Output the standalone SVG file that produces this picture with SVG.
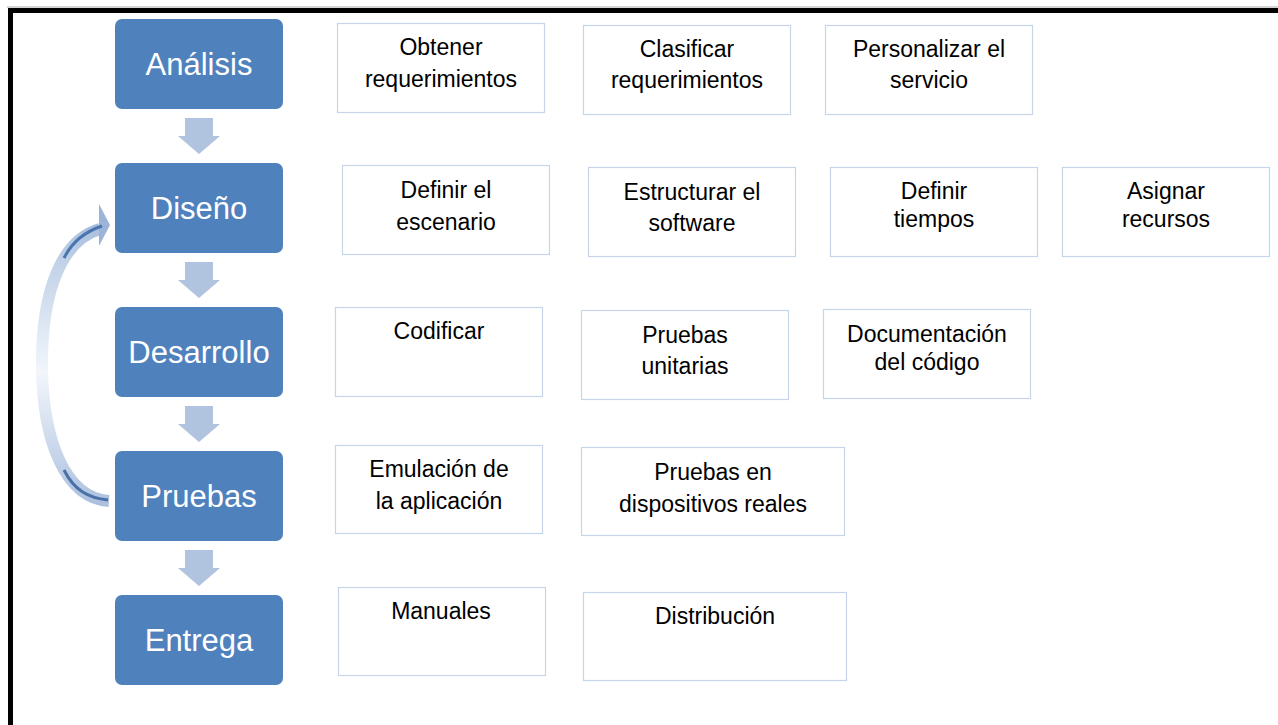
<svg xmlns="http://www.w3.org/2000/svg" width="1278" height="725" viewBox="0 0 1278 725">
<defs>
<style>
.phase{fill:#4F81BD;}
.ptxt{font-family:"Liberation Sans",Arial,sans-serif;font-size:31px;fill:#FFFFFF;text-anchor:middle;}
.task{fill:#FFFFFF;stroke:#C6D5EA;stroke-width:1.2;}
.ttxt{font-family:"Liberation Sans",Arial,sans-serif;font-size:23px;fill:#000000;text-anchor:middle;}
.down{fill:#B0C3DF;}
</style>
<linearGradient id="loopg" x1="0" y1="205" x2="0" y2="510" gradientUnits="userSpaceOnUse">
<stop offset="0" stop-color="#9BB4D8"/>
<stop offset="0.2" stop-color="#C3D3E9"/>
<stop offset="0.55" stop-color="#F2F6FB"/>
<stop offset="0.8" stop-color="#C9D7EB"/>
<stop offset="1" stop-color="#A9BEDD"/>
</linearGradient>
</defs>
<rect x="0" y="0" width="1278" height="725" fill="#FFFFFF"/>
<line x1="7" y1="7" x2="1278" y2="7" stroke="#AAAAAA" stroke-width="1"/>
<rect x="10.5" y="10.5" width="1300" height="800" fill="none" stroke="#000000" stroke-width="5"/>

<g id="connectors">
<path class="down" d="M185 118 H213 V136 H220 L199 154 L178 136 H185 Z"/>
<path class="down" d="M185 262 H213 V280 H220 L199 298 L178 280 H185 Z"/>
<path class="down" d="M185 406 H213 V424 H220 L199 442 L178 424 H185 Z"/>
<path class="down" d="M185 550 H213 V568 H220 L199 586 L178 568 H185 Z"/>
<g id="loop">
<path d="M109 501 C 65 498, 42 440, 42 363 C 42 290, 62 240, 100 229" fill="none" stroke="url(#loopg)" stroke-width="12" stroke-linecap="butt"/>
<path d="M99 204 L110 225 L99 246 Z" fill="#9BB4D8"/>
<path d="M64 470 C 74 490, 88 498, 108 500" fill="none" stroke="#4A72A8" stroke-width="3"/>
<path d="M64 258 C 72 242, 84 232, 102 226" fill="none" stroke="#4A76B0" stroke-width="3"/>
</g>
</g>

<g id="analisis"><rect class="phase" x="115" y="19" width="168" height="90" rx="7"/><text class="ptxt" x="199" y="75">Análisis</text></g>
<g id="diseno"><rect class="phase" x="115" y="163" width="168" height="90" rx="7"/><text class="ptxt" x="199" y="219">Diseño</text></g>
<g id="desarrollo"><rect class="phase" x="115" y="307" width="168" height="90" rx="7"/><text class="ptxt" x="199" y="363">Desarrollo</text></g>
<g id="pruebas"><rect class="phase" x="115" y="451" width="168" height="90" rx="7"/><text class="ptxt" x="199" y="507">Pruebas</text></g>
<g id="entrega"><rect class="phase" x="115" y="595" width="168" height="90" rx="7"/><text class="ptxt" x="199" y="651">Entrega</text></g>

<g id="t-obtener"><rect class="task" x="337.5" y="23.5" width="207" height="89"/><text class="ttxt" x="441" y="55">Obtener</text><text class="ttxt" x="441" y="87">requerimientos</text></g>
<g id="t-clasificar"><rect class="task" x="583.5" y="25.5" width="207" height="89"/><text class="ttxt" x="687" y="57">Clasificar</text><text class="ttxt" x="687" y="88">requerimientos</text></g>
<g id="t-personalizar"><rect class="task" x="825.5" y="25.5" width="207" height="89"/><text class="ttxt" x="929" y="57">Personalizar el</text><text class="ttxt" x="929" y="88">servicio</text></g>

<g id="t-definir-esc"><rect class="task" x="342.5" y="165.5" width="207" height="89"/><text class="ttxt" x="446" y="198">Definir el</text><text class="ttxt" x="446" y="230">escenario</text></g>
<g id="t-estructurar"><rect class="task" x="588.5" y="167.5" width="207" height="89"/><text class="ttxt" x="692" y="200">Estructurar el</text><text class="ttxt" x="692" y="231">software</text></g>
<g id="t-tiempos"><rect class="task" x="830.5" y="167.5" width="207" height="89"/><text class="ttxt" x="934" y="199">Definir</text><text class="ttxt" x="934" y="227">tiempos</text></g>
<g id="t-recursos"><rect class="task" x="1062.5" y="167.5" width="207" height="89"/><text class="ttxt" x="1166" y="199">Asignar</text><text class="ttxt" x="1166" y="227">recursos</text></g>

<g id="t-codificar"><rect class="task" x="335.5" y="307.5" width="207" height="89"/><text class="ttxt" x="439" y="339">Codificar</text></g>
<g id="t-unitarias"><rect class="task" x="581.5" y="310.5" width="207" height="89"/><text class="ttxt" x="685" y="343">Pruebas</text><text class="ttxt" x="685" y="374">unitarias</text></g>
<g id="t-documentacion"><rect class="task" x="823.5" y="309.5" width="207" height="89"/><text class="ttxt" x="927" y="342">Documentación</text><text class="ttxt" x="927" y="370">del código</text></g>

<g id="t-emulacion"><rect class="task" x="335.5" y="445.5" width="207" height="88"/><text class="ttxt" x="439" y="477">Emulación de</text><text class="ttxt" x="439" y="509">la aplicación</text></g>
<g id="t-dispositivos"><rect class="task" x="581.5" y="447.5" width="263" height="88"/><text class="ttxt" x="713" y="480">Pruebas en</text><text class="ttxt" x="713" y="512">dispositivos reales</text></g>

<g id="t-manuales"><rect class="task" x="338.5" y="587.5" width="207" height="88"/><text class="ttxt" x="441" y="619">Manuales</text></g>
<g id="t-distribucion"><rect class="task" x="583.5" y="592.5" width="263" height="88"/><text class="ttxt" x="715" y="624">Distribución</text></g>
</svg>
